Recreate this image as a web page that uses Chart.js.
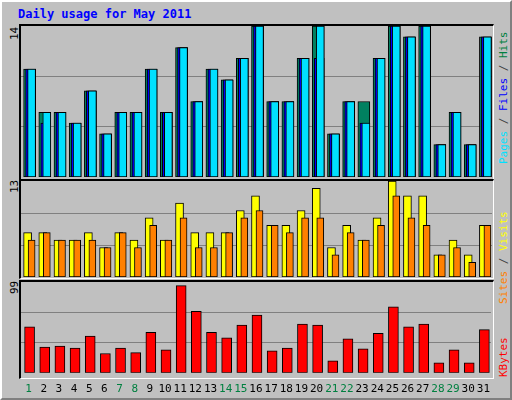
<!DOCTYPE html>
<html>
<head>
<meta charset="utf-8">
<script src="https://cdn.jsdelivr.net/npm/chart.js@4"></script>
<style>
  html, body { margin: 0; padding: 0; background: #c0c0c0; }
  #frame { position: absolute; left: 0; top: 0; width: 508px; height: 396px;
           border: 2px solid; border-color: #ffffff #808080 #808080 #ffffff; background: #c0c0c0; }
  .title { position: absolute; left: 18px; top: 7px; font: bold 12px 'DejaVu Sans Mono', monospace; color: #0000ff; }
  .panel { position: absolute; left: 19px; width: 472px;
           border-style: solid; border-width: 2px 1px 1px 2px; border-color: #000 #fff #fff #000; }
  .box { position: absolute; }
  .vlab { position: absolute; font: 11px 'DejaVu Sans Mono', monospace; white-space: pre;
          transform-origin: 0 0; transform: rotate(-90deg); }
</style>
</head>
<body>
<div id="frame"></div>
<div class="title">Daily usage for May 2011</div>
<div class="panel" style="top:24px;height:153px"></div>
<div class="panel" style="top:179px;height:97px"></div>
<div class="panel" style="top:280px;height:96px"></div>
<div class="box" style="left:21px;top:26px;width:471px;height:151px"><canvas id="c1"></canvas></div>
<div class="box" style="left:21px;top:181px;width:471px;height:96px"><canvas id="c2"></canvas></div>
<div class="box" style="left:21px;top:282px;width:471px;height:116px"><canvas id="c3"></canvas></div>
<div class="vlab" style="left:8px;top:40px;color:#000">14</div>
<div class="vlab" style="left:8px;top:193px;color:#000">13</div>
<div class="vlab" style="left:8px;top:294px;color:#000">99</div>
<div class="vlab" style="left:497px;top:164px"><span style="color:#00e0ff">Pages</span><span style="color:#404040"> / </span><span style="color:#0000ff">Files</span><span style="color:#404040"> / </span><span style="color:#008040">Hits</span></div>
<div class="vlab" style="left:497px;top:304px"><span style="color:#ff8000">Sites</span><span style="color:#404040"> / </span><span style="color:#ffff00">Visits</span></div>
<div class="vlab" style="left:497px;top:377px;color:#ff0000">KBytes</div>
<script>
const days   = Array.from({ length: 31 }, (_, i) => i + 1);
const weekend = [1, 7, 8, 14, 15, 21, 22, 28, 29];
const hits   = [10, 6, 6, 5, 8, 4, 6, 6, 10, 6, 12, 7, 10, 9, 11, 14, 7, 7, 11, 14, 4, 7, 7, 11, 14, 13, 14, 3, 6, 3, 13];
const files  = [10, 5, 6, 5, 8, 4, 6, 6, 10, 6, 12, 7, 10, 9, 11, 14, 7, 7, 11, 11, 4, 7, 5, 11, 14, 13, 14, 3, 6, 3, 13];
const pages  = [10, 6, 6, 5, 8, 4, 6, 6, 10, 6, 12, 7, 10, 9, 11, 14, 7, 7, 11, 14, 4, 7, 5, 11, 14, 13, 14, 3, 6, 3, 13];
const visits = [6, 6, 5, 5, 6, 4, 6, 5, 8, 5, 10, 6, 6, 6, 9, 11, 7, 7, 9, 12, 4, 7, 5, 8, 13, 11, 11, 3, 5, 3, 7];
const sites  = [5, 6, 5, 5, 5, 4, 6, 4, 7, 5, 8, 4, 4, 6, 8, 9, 7, 6, 8, 8, 3, 6, 5, 7, 11, 8, 7, 3, 4, 2, 7];
const kbytes = [50, 28, 29, 27, 40, 21, 27, 22, 44, 25, 95, 67, 44, 38, 52, 63, 24, 27, 53, 52, 13, 37, 26, 43, 72, 50, 53, 11, 25, 11, 47];
const maxTop = 14, maxMid = 13, maxBot = 99;

const PX = 471 / 31; // pixels per day

function series(vals, color, width, rightShiftPx) {
  return {
    data: vals.map((v, i) => ({ x: days[i] + rightShiftPx / PX, y: v })),
    backgroundColor: color, borderColor: '#000', borderWidth: 1,
    barThickness: width, grouped: false, borderSkipped: false,
  };
}

function makeChart(id, datasets, max, showX) {
  return new Chart(document.getElementById(id), {
    type: 'bar',
    data: { datasets },
    options: {
      responsive: true, maintainAspectRatio: false, animation: false,
      layout: { padding: 0 },
      plugins: { legend: { display: false }, tooltip: { enabled: false } },
      scales: {
        x: {
          type: 'linear', min: 0.5, max: 31.5, offset: false, display: showX,
          grid: { display: false }, border: { display: false },
          afterBuildTicks: s => { s.ticks = days.map(d => ({ value: d })); },
          ticks: {
            autoSkip: false, maxRotation: 0, padding: 2,
            font: { family: "'DejaVu Sans Mono', monospace", size: 11 },
            color: c => weekend.includes(c.tick.value) ? '#008040' : '#000000',
          },
        },
        y: {
          min: 0, max: max, display: true,
          afterBuildTicks: s => { s.ticks = [max / 3, 2 * max / 3].map(v => ({ value: v })); },
          afterFit: s => { s.width = 0; },
          ticks: { display: false },
          border: { display: false },
          grid: { color: '#808080', lineWidth: 1, drawTicks: false },
        },
      },
    },
  });
}

makeChart('c1', [
  series(pages, '#00e0ff', 8, 3),
  series(files, '#0000ff', 10, 2),
  series(hits, '#008060', 12, 1),
], maxTop, false);

makeChart('c2', [
  series(sites, '#ff8000', 7, 3),
  series(visits, '#ffff00', 8, -1),
], maxMid, false);

makeChart('c3', [
  series(kbytes, '#ff0000', 10, 1),
], maxBot, true);
</script>
</body>
</html>
